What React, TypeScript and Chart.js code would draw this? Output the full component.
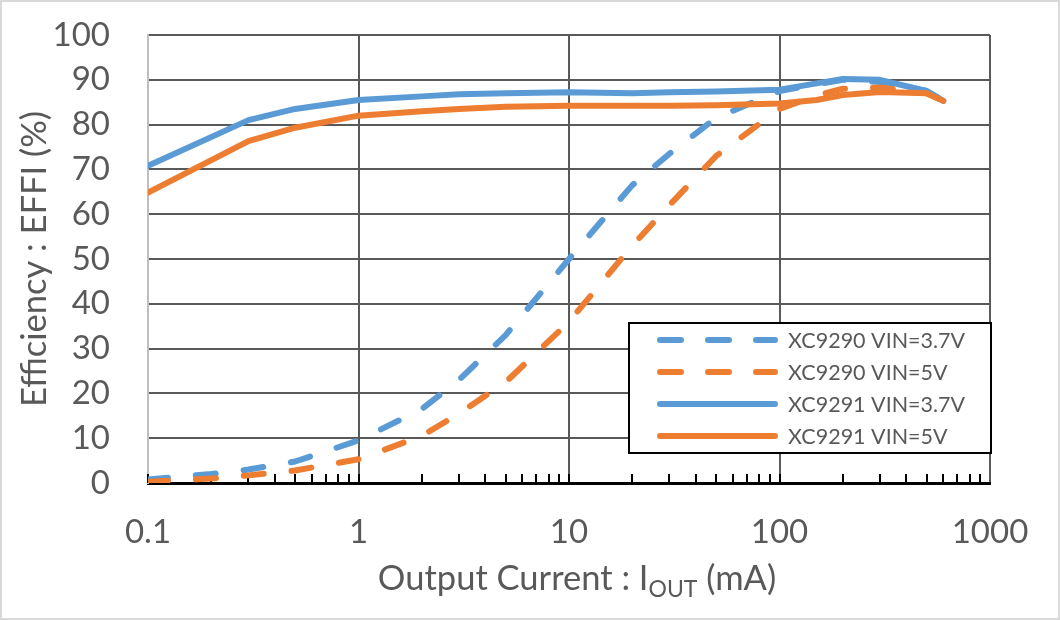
import { useEffect, useRef } from 'react'
import { Chart, registerables } from 'chart.js'

Chart.register(...registerables)

// x positions (mA)
const X_SOLID = [0.1, 0.3, 0.5, 1, 2, 3, 5, 10, 20, 30, 50, 100, 150, 200, 300, 500, 600]
const X_DASH = [0.1, 0.2, 0.3, 0.5, 1, 2, 3, 5, 10, 20, 30, 50, 100, 150, 200, 300, 500, 600]

// efficiency (%)
const XC9290_37V = [0.8, 2, 3, 4.8, 9.5, 16.5, 23, 33, 50, 66.5, 73.5, 81.5, 87.5, 89, 90, 89.5, 87.5, 85.3]
const XC9290_5V = [0.3, 1, 1.7, 2.8, 5.3, 10.5, 15.5, 22.5, 36, 53, 62, 73, 83.5, 86.5, 88, 88.3, 87, 85.3]
const XC9291_37V = [70.8, 81, 83.5, 85.5, 86.3, 86.8, 87, 87.2, 87, 87.2, 87.4, 87.8, 89.2, 90.2, 90, 87.5, 85.3]
const XC9291_5V = [64.8, 76.3, 79.3, 82, 83, 83.5, 84, 84.2, 84.2, 84.2, 84.3, 84.7, 85.5, 86.6, 87.3, 87, 85.3]

const SERIES_NAMES = ['XC9290 VIN=3.7V', 'XC9290 VIN=5V', 'XC9291 VIN=3.7V', 'XC9291 VIN=5V']
const X_TICKS = [0.1, 1, 10, 100, 1000]
const X_TICK_LABELS = ['0.1', '1', '10', '100', '1000']

const BLUE = '#5b9bd5'
const ORANGE = '#ed7d31'
const TEXT = '#595959'
const FONT = 'Lato'

const pts = (xs: number[], ys: number[]) => xs.map((x, i) => ({ x, y: ys[i] }))

// Excel-like decorations: minor ticks, axis titles, legend box, outer frame
const decorations = {
  id: 'decorations',
  beforeDatasetsDraw(chart: any) {
    const { ctx, chartArea } = chart
    const xs = chart.scales.x
    ctx.save()
    ctx.strokeStyle = '#000'
    ctx.lineWidth = 2
    for (let d = 0.1; d < 1000; d *= 10) {
      for (let k = 1; k <= 9; k++) {
        const px = Math.round(xs.getPixelForValue(d * k))
        ctx.beginPath()
        ctx.moveTo(px, chartArea.bottom)
        ctx.lineTo(px, chartArea.bottom - 9)
        ctx.stroke()
      }
    }
    ctx.restore()
  },
  afterDraw(chart: any) {
    const { ctx, chartArea, width, height } = chart
    const metas = chart.data.datasets
    ctx.save()

    // y title
    ctx.fillStyle = TEXT
    ctx.font = `34.5px ${FONT}`
    ctx.textAlign = 'center'
    ctx.textBaseline = 'alphabetic'
    ctx.translate(46, (chartArea.top + chartArea.bottom) / 2)
    ctx.rotate(-Math.PI / 2)
    ctx.fillText('Efficiency : EFFI (%)', 0, 0)
    ctx.setTransform(1, 0, 0, 1, 0, 0)

    // x title with subscript
    const a = 'Output Current : I'
    const sub = 'OUT'
    const b = ' (mA)'
    ctx.font = `34.5px ${FONT}`
    const wa = ctx.measureText(a).width
    const wb = ctx.measureText(b).width
    ctx.font = `23px ${FONT}`
    const ws = ctx.measureText(sub).width
    const total = wa + ws + wb
    let x0 = (chartArea.left + chartArea.right) / 2 - total / 2 + 8
    const base = 590
    ctx.textAlign = 'left'
    ctx.font = `34.5px ${FONT}`
    ctx.fillText(a, x0, base)
    x0 += wa
    ctx.font = `23px ${FONT}`
    ctx.fillText(sub, x0, base + 7)
    x0 += ws
    ctx.font = `34.5px ${FONT}`
    ctx.fillText(b, x0, base)

    // legend
    const lx = 629, ly = 323, lw = 362, lh = 130
    ctx.fillStyle = '#fff'
    ctx.fillRect(lx, ly, lw, lh)
    ctx.strokeStyle = '#000'
    ctx.lineWidth = 2
    ctx.strokeRect(lx, ly, lw, lh)
    ctx.font = `21.5px ${FONT}`
    ctx.textBaseline = 'middle'
    metas.forEach((ds: any, i: number) => {
      const y = 340 + i * 32
      ctx.beginPath()
      ctx.strokeStyle = ds.borderColor
      ctx.lineWidth = 6
      ctx.lineCap = 'round'
      ctx.setLineDash(ds.borderDash && ds.borderDash.length ? [21, 27] : [])
      ctx.moveTo(660, y)
      ctx.lineTo(775, y)
      ctx.stroke()
      ctx.setLineDash([])
      ctx.fillStyle = TEXT
      ctx.fillText(ds.label, 788, y + 1)
    })

    // outer frame
    ctx.strokeStyle = '#d9d9d9'
    ctx.lineWidth = 2
    ctx.strokeRect(1, 1, width - 2, height - 2)
    ctx.restore()
  },
}

export default function App() {
  const canvasRef = useRef<HTMLCanvasElement>(null)
  const chartRef = useRef<Chart | null>(null)

  useEffect(() => {
    if (!canvasRef.current) return
    chartRef.current?.destroy()

    const line = (label: string, data: any, color: string, dashed: boolean, order: number) => ({
      label,
      data,
      borderColor: color,
      backgroundColor: color,
      borderWidth: 6,
      borderDash: dashed ? [20, 28] : [],
      borderCapStyle: 'round',
      borderJoinStyle: 'round',
      pointRadius: 0,
      tension: 0,
      fill: false,
      order,
    })

    chartRef.current = new Chart(canvasRef.current, {
      type: 'line',
      data: {
        datasets: [
          line(SERIES_NAMES[0], pts(X_DASH, XC9290_37V), BLUE, true, 3),
          line(SERIES_NAMES[1], pts(X_DASH, XC9290_5V), ORANGE, true, 2),
          line(SERIES_NAMES[2], pts(X_SOLID, XC9291_37V), BLUE, false, 1),
          line(SERIES_NAMES[3], pts(X_SOLID, XC9291_5V), ORANGE, false, 0),
        ],
      },
      options: {
        responsive: false,
        animation: false,
        devicePixelRatio: 1,
        layout: { padding: { left: 0, right: 70, top: 35, bottom: 0 } },
        plugins: { legend: { display: false }, tooltip: { enabled: false } },
        scales: {
          x: {
            type: 'logarithmic',
            min: 0.1,
            max: 1000,
            afterBuildTicks: (s: any) => { s.ticks = X_TICKS.map((v) => ({ value: v, major: true })) },
            afterFit: (s: any) => { s.height = 137; s.paddingLeft = 0; s.paddingRight = 0 },
            grid: {
              color: (c: any) => (c.index === 0 ? 'rgba(0,0,0,0)' : '#595959'),
              lineWidth: 2,
              drawTicks: false,
            },
            border: { display: true, color: '#000', width: 3 },
            ticks: {
              autoSkip: false,
              maxRotation: 0,
              padding: 30,
              color: TEXT,
              font: { size: 33, family: FONT },
              callback: (_v: any, i: number) => X_TICK_LABELS[i],
            },
          },
          y: {
            min: 0,
            max: 100,
            afterFit: (s: any) => { s.width = 148; s.paddingTop = 0; s.paddingBottom = 0 },
            grid: {
              color: (c: any) => (c.tick.value === 0 ? 'rgba(0,0,0,0)' : '#595959'),
              lineWidth: 2,
              drawTicks: false,
            },
            border: { display: true, color: '#bfbfbf', width: 2 },
            ticks: {
              stepSize: 10,
              autoSkip: false,
              padding: 38,
              color: TEXT,
              font: { size: 33, family: FONT },
            },
          },
        },
      },
      plugins: [decorations],
    } as any)

    return () => { chartRef.current?.destroy() }
  }, [])

  return (
    <div style={{ position: 'fixed', left: 0, top: 0, width: 1060, height: 620, background: '#fff' }}>
      <canvas ref={canvasRef} width={1060} height={620} style={{ width: 1060, height: 620 }} />
    </div>
  )
}
